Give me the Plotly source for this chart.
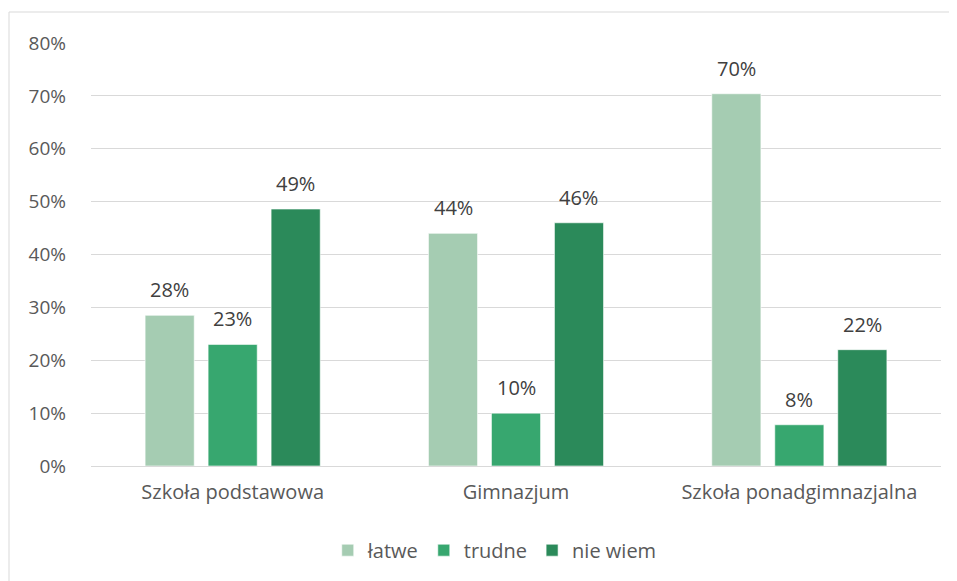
import plotly.graph_objects as go

categories = ["Szkoła podstawowa", "Gimnazjum", "Szkoła ponadgimnazjalna"]
series_names = ["łatwe", "trudne", "nie wiem"]
latwe = [28.5, 44.0, 70.4]
trudne = [23.0, 10.0, 7.8]
nie_wiem = [48.6, 46.0, 22.0]
y_ticks = [0, 10, 20, 30, 40, 50, 60, 70, 80]

colors = ["#A5CCB2", "#37A76F", "#2B8A5A"]
bargap = 0.333
slot = (1 - bargap) / 3

fig = go.Figure()
annotations = []
for k, (name, vals, col) in enumerate(zip(series_names, [latwe, trudne, nie_wiem], colors)):
    fig.add_trace(go.Bar(
        x=categories,
        y=vals,
        name=name,
        marker_color=col,
        marker_line=dict(width=1, color="rgba(255,255,255,0.6)"),
    ))
    # data labels above each bar
    for i, v in enumerate(vals):
        annotations.append(dict(
            x=i + (k - 1) * slot,
            y=v,
            xref="x",
            yref="y",
            text=f"{v:.0f}%",
            showarrow=False,
            yanchor="bottom",
            yshift=10,
            font=dict(size=20, color="#404040"),
        ))

# page body has an 8px offset, so the plot area is placed 8px up/left
fig.update_layout(
    width=957,
    height=581,
    margin=dict(l=83, r=24, t=35, b=123),
    barmode="group",
    bargap=bargap,
    bargroupgap=0.22,
    font_family="Open Sans",
    font_size=19,
    paper_bgcolor="white",
    plot_bgcolor="white",
    showlegend=True,
    annotations=annotations,
    legend=dict(
        orientation="h",
        x=0.475,
        xanchor="center",
        y=-0.199,
        yanchor="middle",
        font=dict(size=20, color="#595959"),
        itemwidth=30,
        traceorder="normal",
    ),
    xaxis=dict(
        tickfont=dict(size=20, color="#595959"),
        showline=True,
        linecolor="#D9D9D9",
        linewidth=1,
        ticks="",
        ticklabelstandoff=8,
    ),
    yaxis=dict(
        range=[0, 80],
        tickvals=y_ticks,
        ticktext=[f"{t}%" for t in y_ticks],
        tickfont=dict(size=19, color="#595959"),
        gridcolor="#D9D9D9",
        gridwidth=1,
        zeroline=False,
        ticks="",
        ticklabelstandoff=24,
    ),
    shapes=[dict(
        type="rect",
        xref="paper",
        yref="paper",
        x0=(1 - 83) / 850,
        x1=(960 - 83) / 850,
        y0=(458 - 600) / 423,
        y1=(458 - 4) / 423,
        line=dict(color="#D9D9D9", width=1),
        fillcolor="rgba(0,0,0,0)",
        layer="below",
    )],
)

fig.write_html("out.html")
